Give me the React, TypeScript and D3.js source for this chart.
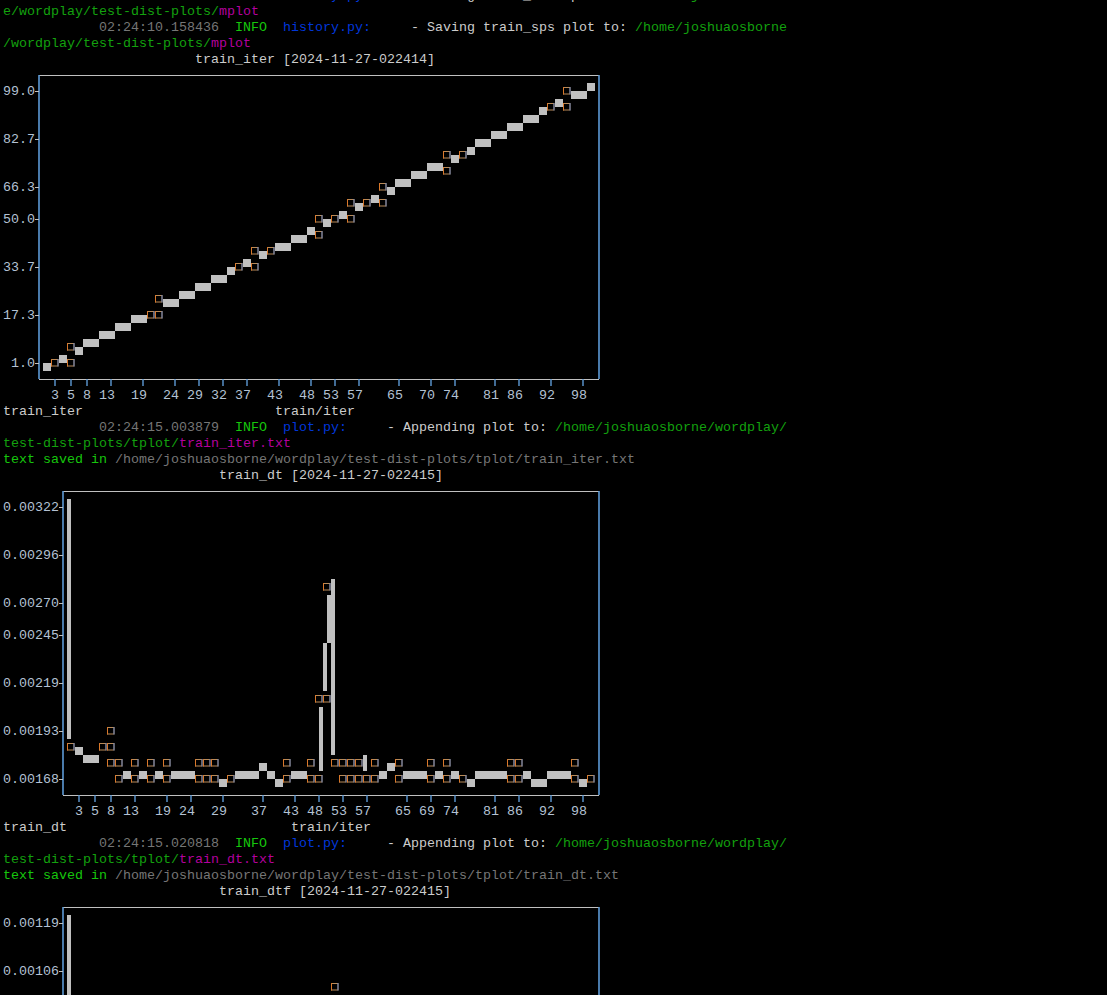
import React from "react";
import * as d3 from "d3";

// terminal grid: 8x16 cells, plotext "hd" markers split each cell in 2x2
const CW = 8;
const CH = 16;
const X0 = 3;
const Y0 = -13;

const iters = [
  1, 2, 3, 4, 5, 6, 7, 8, 9, 10, 11, 12, 13, 14, 15, 16, 17, 18, 19, 20,
  21, 22, 23, 24, 25, 26, 27, 28, 29, 30, 31, 32, 33, 34, 35, 36, 37, 38, 39, 40,
  41, 42, 43, 44, 45, 46, 47, 48, 49, 50, 51, 52, 53, 54, 55, 56, 57, 58, 59, 60,
  61, 62, 63, 64, 65, 66, 67, 68, 69, 70, 71, 72, 73, 74, 75, 76, 77, 78, 79, 80,
  81, 82, 83, 84, 85, 86, 87, 88, 89, 90, 91, 92, 93, 94, 95, 96, 97, 98, 99,
];

const trainIter = [
  1, 2, 3, 4, 5, 6, 7, 8, 9, 10, 11, 12, 13, 14, 15, 16, 17, 18, 19, 20,
  21, 22, 23, 24, 25, 26, 27, 28, 29, 30, 31, 32, 33, 34, 35, 36, 37, 38, 39, 40,
  41, 42, 43, 44, 45, 46, 47, 48, 49, 50, 51, 52, 53, 54, 55, 56, 57, 58, 59, 60,
  61, 62, 63, 64, 65, 66, 67, 68, 69, 70, 71, 72, 73, 74, 75, 76, 77, 78, 79, 80,
  81, 82, 83, 84, 85, 86, 87, 88, 89, 90, 91, 92, 93, 94, 95, 96, 97, 98, 99,
];

const trainDt = [
  0.00322, 0.0019, 0.001856, 0.00181, 0.00183, 0.00181, 0.00186, 0.00188, 0.00196, 0.00177,
  0.00172, 0.00172, 0.00177, 0.00172, 0.00172, 0.00177, 0.00172, 0.00172, 0.00177, 0.00172,
  0.00172, 0.00172, 0.00172, 0.00172, 0.00177, 0.00172, 0.00177, 0.00177, 0.00172, 0.00168,
  0.00168, 0.00172, 0.00172, 0.00172, 0.00172, 0.00172, 0.00177, 0.00177, 0.00172, 0.00168,
  0.00168, 0.00177, 0.00172, 0.00172, 0.00172, 0.00177, 0.00172, 0.00177, 0.00216, 0.0028,
  0.00181, 0.00177, 0.00172, 0.00177, 0.00172, 0.00181, 0.00172, 0.00177, 0.00172, 0.00172,
  0.00177, 0.00177, 0.00172, 0.00172, 0.00172, 0.00172, 0.00172, 0.00177, 0.00172, 0.00172,
  0.00177, 0.00172, 0.00172, 0.00172, 0.00168, 0.00168, 0.00172, 0.00172, 0.00172, 0.00172,
  0.00172, 0.00172, 0.00177, 0.00172, 0.00177, 0.00172, 0.00172, 0.00168, 0.00168, 0.00168,
  0.00172, 0.00172, 0.00172, 0.00172, 0.00177, 0.00172, 0.00168, 0.00172, 0.00168,
];

const trainDtf = [
  0.00119, 0.00047, 0.00046, 0.00044, 0.00045, 0.00044, 0.00045, 0.00046, 0.00048, 0.00043,
  0.00042, 0.00042, 0.00043, 0.00042, 0.00042, 0.00043, 0.00042, 0.00042, 0.00043, 0.00042,
  0.00042, 0.00042, 0.00042, 0.00042, 0.00043, 0.00042, 0.00043, 0.00043, 0.00042, 0.00041,
  0.00041, 0.00042, 0.00042, 0.00042, 0.00042, 0.00042, 0.00043, 0.00043, 0.00042, 0.00041,
  0.00041, 0.00043, 0.00042, 0.00042, 0.00042, 0.00043, 0.00042, 0.00043, 0.00072, 0.00099,
  0.00044, 0.00043, 0.00042, 0.00043, 0.00042, 0.00044, 0.00042, 0.00043, 0.00042, 0.00042,
  0.00043, 0.00043, 0.00042, 0.00042, 0.00042, 0.00042, 0.00042, 0.00043, 0.00042, 0.00042,
  0.00043, 0.00042, 0.00042, 0.00042, 0.00041, 0.00041, 0.00042, 0.00042, 0.00042, 0.00042,
  0.00042, 0.00042, 0.00043, 0.00042, 0.00043, 0.00042, 0.00042, 0.00041, 0.00041, 0.00041,
  0.00042, 0.00042, 0.00042, 0.00042, 0.00043, 0.00042, 0.00041, 0.00042, 0.00041,
];

const iterXTicks = [3, 5, 8, 13, 19, 24, 29, 32, 37, 43, 48, 53, 57, 65, 70, 74, 81, 86, 92, 98];
const dtXTicks = [3, 5, 8, 13, 19, 24, 29, 37, 43, 48, 53, 57, 65, 69, 74, 81, 86, 92, 98];
const iterYTicks = [99.0, 82.7, 66.3, 50.0, 33.7, 17.3, 1.0];
const dtYTicks = [0.00322, 0.00296, 0.0027, 0.00245, 0.00219, 0.00193, 0.00168];
const dtfYTicks = [0.00119, 0.00106, 0.00093, 0.0008, 0.00067, 0.00054, 0.00041];

const C = {
  fg: "#cccccc",
  dim: "#767676",
  info: "#16c60c",
  mod: "#0037da",
  path: "#13a10e",
  file: "#b4009e",
  tick: "#b4c2d4",
  frame: "#c0c0c0",
  vframe: "#5d9ad6",
  block: "#c0c0c0",
};

type Seg = { c: number; t: string; color: string };
const logLines: { row: number; segs: Seg[] }[] = [
  { row: 0, segs: [
    { c: 12, t: "02:24:10.125347", color: C.dim }, { c: 29, t: "INFO", color: C.info },
    { c: 35, t: "history.py:", color: C.mod }, { c: 51, t: "- Saving train_loss plot to: ", color: C.fg },
    { c: 80, t: "/home/joshuaosborn", color: C.path }] },
  { row: 1, segs: [{ c: 0, t: "e/wordplay/test-dist-plots/", color: C.path }, { c: 27, t: "mplot", color: C.file }] },
  { row: 2, segs: [
    { c: 12, t: "02:24:10.158436", color: C.dim }, { c: 29, t: "INFO", color: C.info },
    { c: 35, t: "history.py:", color: C.mod }, { c: 51, t: "- Saving train_sps plot to: ", color: C.fg },
    { c: 79, t: "/home/joshuaosborne", color: C.path }] },
  { row: 3, segs: [{ c: 0, t: "/wordplay/test-dist-plots/", color: C.path }, { c: 26, t: "mplot", color: C.file }] },
  { row: 4, segs: [{ c: 24, t: "train_iter [2024-11-27-022414]", color: C.fg }] },
  { row: 26, segs: [{ c: 0, t: "train_iter", color: C.fg }, { c: 34, t: "train/iter", color: C.fg }] },
  { row: 27, segs: [
    { c: 12, t: "02:24:15.003879", color: C.dim }, { c: 29, t: "INFO", color: C.info },
    { c: 35, t: "plot.py:", color: C.mod }, { c: 48, t: "- Appending plot to: ", color: C.fg },
    { c: 69, t: "/home/joshuaosborne/wordplay/", color: C.path }] },
  { row: 28, segs: [{ c: 0, t: "test-dist-plots/tplot/", color: C.path }, { c: 22, t: "train_iter.txt", color: C.file }] },
  { row: 29, segs: [
    { c: 0, t: "text saved in", color: C.info },
    { c: 14, t: "/home/joshuaosborne/wordplay/test-dist-plots/tplot/train_iter.txt", color: C.dim }] },
  { row: 30, segs: [{ c: 27, t: "train_dt [2024-11-27-022415]", color: C.fg }] },
  { row: 52, segs: [{ c: 0, t: "train_dt", color: C.fg }, { c: 36, t: "train/iter", color: C.fg }] },
  { row: 53, segs: [
    { c: 12, t: "02:24:15.020818", color: C.dim }, { c: 29, t: "INFO", color: C.info },
    { c: 35, t: "plot.py:", color: C.mod }, { c: 48, t: "- Appending plot to: ", color: C.fg },
    { c: 69, t: "/home/joshuaosborne/wordplay/", color: C.path }] },
  { row: 54, segs: [{ c: 0, t: "test-dist-plots/tplot/", color: C.path }, { c: 22, t: "train_dt.txt", color: C.file }] },
  { row: 55, segs: [
    { c: 0, t: "text saved in", color: C.info },
    { c: 14, t: "/home/joshuaosborne/wordplay/test-dist-plots/tplot/train_dt.txt", color: C.dim }] },
  { row: 56, segs: [{ c: 27, t: "train_dtf [2024-11-27-022415]", color: C.fg }] },
];

const colX = (c: number) => X0 + CW * c;
const rowY = (r: number) => Y0 + CH * r;
const rnd = (v: number) => Math.floor(v + 0.5 + 1e-9);

function Txt({ c, r, t, color }: { c: number; r: number; t: string; color: string }) {
  return (
    <text x={colX(c)} y={rowY(r) + 12} fill={color} style={{ whiteSpace: "pre" }}>
      {t}
    </text>
  );
}

interface PlotProps {
  xs: number[];
  ys: number[];
  xTicks: number[];
  yTicks: number[];
  digits: number;
  top: number;
  bottom: number;
  left: number;
  right: number;
}

function Plot({ xs, ys, xTicks, yTicks, digits, top, bottom, left, right }: PlotProps) {
  const nCols = right - left - 1;
  const nRows = bottom - top - 1;
  const W = nCols * 2;
  const H = nRows * 2;
  const xd = d3.extent(xs) as [number, number];
  const yd = d3.extent(ys) as [number, number];
  const hx = d3.scaleLinear().domain(xd).range([0, W - 1]);
  const hy = d3.scaleLinear().domain(yd).range([0, H - 1]);
  const cx = d3.scaleLinear().domain(xd).range([0, nCols - 1]);
  const cy = d3.scaleLinear().domain(yd).range([0, nRows - 1]);

  // rasterise the line on the half-block grid
  const grid: boolean[][] = d3.range(H).map(() => d3.range(W).map(() => false));
  const pts = xs.map((x, i) => [rnd(hx(x)), H - 1 - rnd(hy(ys[i]))]);
  const put = (x: number, y: number) => {
    if (x >= 0 && x < W && y >= 0 && y < H) grid[y][x] = true;
  };
  put(pts[0][0], pts[0][1]);
  for (let i = 1; i < pts.length; i++) {
    const [ax, ay] = pts[i - 1];
    const [bx, by] = pts[i];
    const dx = bx - ax, dy = by - ay;
    const l = Math.max(Math.abs(dx), Math.abs(dy));
    for (let k = 0; k <= l; k++) {
      const f = l === 0 ? 0 : k / l;
      put(ax + Math.floor(dx * f + 1e-9), ay + Math.round(dy * f));
    }
  }

  const cells: React.ReactNode[] = [];
  for (let r = 0; r < nRows; r++) {
    for (let c = 0; c < nCols; c++) {
      const m =
        (grid[2 * r][2 * c] ? 1 : 0) | (grid[2 * r][2 * c + 1] ? 2 : 0) |
        (grid[2 * r + 1][2 * c] ? 4 : 0) | (grid[2 * r + 1][2 * c + 1] ? 8 : 0);
      if (!m) continue;
      const x = colX(left + 1 + c);
      const y = rowY(top + 1 + r);
      const key = `${r}-${c}`;
      if (m === 3) cells.push(<rect key={key} x={x} y={y} width={CW} height={CH / 2} fill={C.block} />);
      else if (m === 12) cells.push(<rect key={key} x={x} y={y + CH / 2} width={CW} height={CH / 2} fill={C.block} />);
      else if (m === 15) cells.push(<rect key={key} x={x} y={y} width={CW} height={CH} fill={C.block} />);
      else if (m === 5) cells.push(<rect key={key} x={x} y={y} width={CW / 2} height={CH} fill={C.block} />);
      else if (m === 10) cells.push(<rect key={key} x={x + CW / 2} y={y} width={CW / 2} height={CH} fill={C.block} />);
      else {
        // quadrant glyph missing from the terminal font: drawn as a tofu box
        cells.push(
          <g key={key}>
            <rect x={x + 0.5} y={y + 4.5} width={6.5} height={6.5} fill="none" stroke="#b98a58" />
            <line x1={x + 0.5} x2={x + 0.5} y1={y + 4} y2={y + 11.5} stroke="#d9782a" />
            <line x1={x + 7} x2={x + 7} y1={y + 4} y2={y + 11.5} stroke="#6a86bc" />
          </g>
        );
      }
    }
  }

  const fx0 = colX(left) + CW / 2;
  const fx1 = colX(right) + CW / 2;
  const fy0 = rowY(top) + CH / 2;
  const fy1 = rowY(bottom) + CH / 2;

  return (
    <g>
      <line x1={fx0} x2={fx1} y1={fy0 + 0.5} y2={fy0 + 0.5} stroke={C.frame} />
      <line x1={fx0} x2={fx1} y1={fy1 + 0.5} y2={fy1 + 0.5} stroke={C.frame} />
      <line x1={fx0} x2={fx0} y1={fy0} y2={fy1} stroke={C.vframe} strokeWidth={1.6} />
      <line x1={fx1} x2={fx1} y1={fy0} y2={fy1} stroke={C.vframe} strokeWidth={1.6} />
      {yTicks.map((v) => {
        const r = top + 1 + (nRows - 1 - rnd(cy(v)));
        const lab = v.toFixed(digits);
        return (
          <g key={`y${v}`}>
            <line x1={colX(left)} x2={fx0} y1={rowY(r) + 8.5} y2={rowY(r) + 8.5} stroke={C.frame} />
            <Txt c={left - lab.length} r={r} t={lab} color={C.tick} />
          </g>
        );
      })}
      {xTicks.map((v) => {
        const c = left + 1 + rnd(cx(v));
        const lab = String(v);
        return (
          <g key={`x${v}`}>
            <line x1={colX(c) + 4} x2={colX(c) + 4} y1={fy1} y2={fy1 + 7} stroke={C.vframe} strokeWidth={1.4} />
            <Txt c={c - Math.floor(lab.length / 2)} r={bottom + 1} t={lab} color={C.tick} />
          </g>
        );
      })}
      {cells}
    </g>
  );
}

export default function App() {
  return (
    <div style={{ position: "fixed", left: 0, top: 0, width: 1107, height: 995, background: "#000", overflow: "hidden" }}>
      <svg
        width={1107}
        height={995}
        style={{ display: "block" }}
        fontFamily="'Liberation Mono', 'DejaVu Sans Mono', monospace"
        fontSize={13.333}
      >
        <rect width={1107} height={995} fill="#000" />
        {logLines.map((ln) =>
          ln.segs.map((s, i) => <Txt key={`${ln.row}-${i}`} c={s.c} r={ln.row} t={s.t} color={s.color} />)
        )}
        <Plot xs={iters} ys={trainIter} xTicks={iterXTicks} yTicks={iterYTicks} digits={1} top={5} bottom={24} left={4} right={74} />
        <Plot xs={iters} ys={trainDt} xTicks={dtXTicks} yTicks={dtYTicks} digits={5} top={31} bottom={50} left={7} right={74} />
        <Plot xs={iters} ys={trainDtf} xTicks={dtXTicks} yTicks={dtfYTicks} digits={5} top={57} bottom={76} left={7} right={74} />
      </svg>
    </div>
  );
}
